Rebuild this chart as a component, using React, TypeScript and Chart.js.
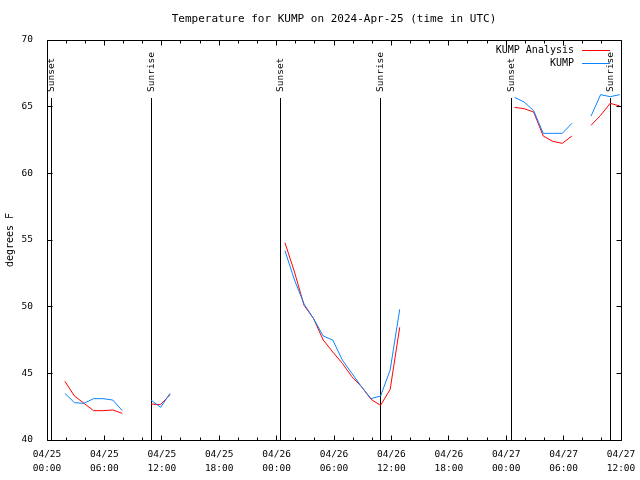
import React, { useEffect, useRef } from "react";
import { Chart, registerables } from "chart.js";

Chart.register(...registerables);

const TITLE = "Temperature for KUMP on 2024-Apr-25 (time in UTC)";
const Y_TITLE = "degrees F";
const SERIES_NAMES = ["KUMP Analysis", "KUMP"];
const SERIES_COLORS = ["#ff0000", "#0a84ff"];

// hours since 2024-04-25 00:00 UTC; a null temperature marks a gap in the record
const obsHours = [
  1.87, 2.87, 3.87, 4.87, 5.87, 6.87, 7.87, 8.87,
  10.87, 11.87, 12.87, 13.87,
  24.87, 25.87, 26.87, 27.87, 28.87, 29.87, 30.87, 31.87, 32.87, 33.87, 34.87, 35.87, 36.87, 37.87,
  48.87, 49.87, 50.87, 51.87, 52.87, 53.87, 54.87, 55.87,
  56.87, 57.87, 58.87, 59.87,
];

const analysisTemps = [
  44.4, 43.3, 42.75, 42.2, 42.2, 42.25, 42.0, null,
  42.7, 42.65, 43.4, null,
  54.8, 52.6, 50.1, 49.1, 47.5, 46.6, 45.75, 44.75, 44.0, 43.05, 42.6, 43.8, 48.45, null,
  64.95, 64.85, 64.6, 62.8, 62.4, 62.25, 62.8, null,
  63.6, 64.35, 65.25, 65.05,
];

const kumpTemps = [
  43.5, 42.8, 42.75, 43.1, 43.1, 43.0, 42.2, null,
  43.0, 42.45, 43.5, null,
  54.2, 52.0, 50.2, 49.1, 47.8, 47.5, 46.0, 45.0, 44.0, 43.1, 43.3, 45.25, 49.8, null,
  65.7, 65.35, 64.7, 63.0, 63.0, 63.0, 63.75, null,
  64.3, 65.9, 65.75, 65.9,
];

const xTickLabels = [
  "04/25 00:00", "04/25 06:00", "04/25 12:00", "04/25 18:00",
  "04/26 00:00", "04/26 06:00", "04/26 12:00", "04/26 18:00",
  "04/27 00:00", "04/27 06:00", "04/27 12:00",
];

const sunEventLabels = ["Sunset", "Sunrise", "Sunset", "Sunrise", "Sunset", "Sunrise"];
const sunEventHours = [0.42, 10.9, 24.43, 34.84, 48.57, 58.88];

const X_MIN = 0;
const X_MAX = 60;
const X_MAJOR = 6;
const X_MINOR = 2;
const Y_MIN = 40;
const Y_MAX = 70;
const Y_STEP = 5;

const MONO = "'DejaVu Sans Mono', 'Liberation Mono', monospace";

const px = (v: number) => Math.floor(v) + 0.5;

const gnuplotPlugin = {
  id: "gnuplotFrame",
  beforeDatasetsDraw(chart: any) {
    const { ctx, chartArea: a, scales } = chart;
    const xs = scales.x;
    ctx.save();
    ctx.strokeStyle = "#000";
    ctx.fillStyle = "#000";
    ctx.lineWidth = 1;
    ctx.font = `9.5px ${MONO}`;
    sunEventHours.forEach((h, i) => {
      const x = px(xs.getPixelForValue(h));
      ctx.beginPath();
      ctx.moveTo(x, a.top + 58);
      ctx.lineTo(x, a.bottom);
      ctx.stroke();
      ctx.save();
      ctx.translate(x + 0.5, a.top + 52);
      ctx.rotate(-Math.PI / 2);
      ctx.textAlign = "left";
      ctx.textBaseline = "middle";
      ctx.fillText(sunEventLabels[i], 0, 0);
      ctx.restore();
    });
    ctx.restore();
  },
  afterDatasetsDraw(chart: any) {
    const { ctx, chartArea: a, scales } = chart;
    const xs = scales.x;
    const ys = scales.y;
    const L = px(a.left), R = px(a.right), T = px(a.top), B = px(a.bottom);
    ctx.save();
    ctx.strokeStyle = "#000";
    ctx.lineWidth = 1;
    ctx.beginPath();
    ctx.rect(L, T, R - L, B - T);
    ctx.stroke();
    // x ticks (inward, top and bottom)
    ctx.beginPath();
    for (let h = X_MIN; h <= X_MAX; h += X_MINOR) {
      const x = px(xs.getPixelForValue(h));
      const len = h % X_MAJOR === 0 ? 5 : 3;
      ctx.moveTo(x, B);
      ctx.lineTo(x, B - len);
      ctx.moveTo(x, T);
      ctx.lineTo(x, T + len);
    }
    // y ticks (inward, left and right)
    for (let v = Y_MIN; v <= Y_MAX; v += Y_STEP) {
      const y = px(ys.getPixelForValue(v));
      ctx.moveTo(L, y);
      ctx.lineTo(L + 5, y);
      ctx.moveTo(R, y);
      ctx.lineTo(R - 5, y);
    }
    ctx.stroke();
    // legend (inside, top right)
    ctx.font = `10px ${MONO}`;
    ctx.fillStyle = "#000";
    ctx.textAlign = "right";
    ctx.textBaseline = "middle";
    SERIES_NAMES.forEach((name, i) => {
      const y = a.top + 10 + i * 13;
      ctx.fillText(name, a.right - 47, y);
      ctx.strokeStyle = SERIES_COLORS[i];
      ctx.beginPath();
      ctx.moveTo(a.right - 39, px(y));
      ctx.lineTo(a.right - 11, px(y));
      ctx.stroke();
    });
    ctx.restore();
  },
};

export default function App() {
  const ref = useRef<HTMLCanvasElement>(null);

  useEffect(() => {
    if (!ref.current) return;
    const toPoints = (temps: (number | null)[]) =>
      obsHours.map((h, i) => ({ x: h, y: temps[i] }));

    const chart = new Chart(ref.current, {
      type: "line",
      data: {
        datasets: [
          {
            label: SERIES_NAMES[0],
            data: toPoints(analysisTemps) as any,
            borderColor: SERIES_COLORS[0],
            borderWidth: 1,
            pointRadius: 0,
            tension: 0,
            fill: false,
            spanGaps: false,
            order: 1,
          },
          {
            label: SERIES_NAMES[1],
            data: toPoints(kumpTemps) as any,
            borderColor: SERIES_COLORS[1],
            borderWidth: 1,
            pointRadius: 0,
            tension: 0,
            fill: false,
            spanGaps: false,
            order: 0,
          },
        ],
      },
      options: {
        animation: false,
        responsive: false,
        devicePixelRatio: 1,
        color: "#000",
        layout: { padding: { left: 0, right: 19, top: 0, bottom: 0 } },
        plugins: {
          legend: { display: false },
          tooltip: { enabled: false },
          title: {
            display: true,
            text: TITLE,
            fullSize: false,
            color: "#000",
            font: { family: MONO, size: 11, weight: "normal", lineHeight: 1.2 },
            padding: { top: 12.4, bottom: 14.4 },
          },
        },
        scales: {
          x: {
            type: "linear",
            min: X_MIN,
            max: X_MAX,
            grid: { display: false },
            border: { display: false },
            ticks: {
              stepSize: X_MAJOR,
              autoSkip: false,
              maxRotation: 0,
              minRotation: 0,
              padding: 0,
              color: "#000",
              font: { family: MONO, size: 9.5, lineHeight: 14 / 9.5 },
              callback: (value: any) => {
                const v = Number(value);
                if (v % X_MAJOR !== 0) return "";
                const s = xTickLabels[v / X_MAJOR];
                return s ? s.split(" ") : "";
              },
            },
            afterFit: (s: any) => {
              s.height = 40;
            },
          },
          y: {
            type: "linear",
            min: Y_MIN,
            max: Y_MAX,
            grid: { display: false },
            border: { display: false },
            ticks: {
              stepSize: Y_STEP,
              padding: 6,
              color: "#000",
              font: { family: MONO, size: 9.5 },
            },
            title: {
              display: true,
              text: Y_TITLE,
              color: "#000",
              font: { family: MONO, size: 10, lineHeight: 1.2 },
              padding: { top: 4, bottom: 0 },
            },
            afterFit: (s: any) => {
              s.width = 47;
            },
          },
        },
      },
      plugins: [gnuplotPlugin],
    });
    return () => chart.destroy();
  }, []);

  return (
    <div
      style={{
        position: "absolute",
        left: 0,
        top: 0,
        width: 640,
        height: 480,
        background: "#fff",
      }}
    >
      <canvas ref={ref} width={640} height={480} style={{ display: "block" }} />
    </div>
  );
}
